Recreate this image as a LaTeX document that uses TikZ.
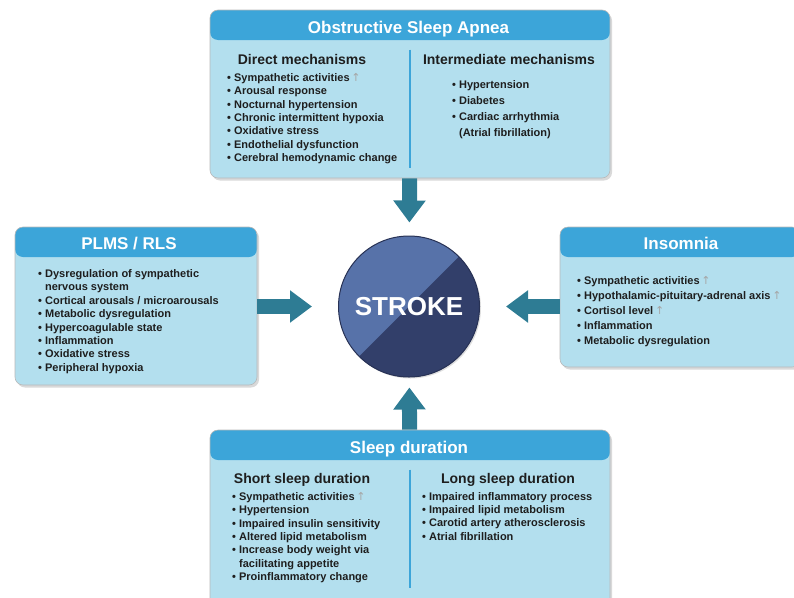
\documentclass[tikz,border=0pt]{standalone}
\usepackage{fontspec}
\setmainfont{Liberation Sans}
\newfontfamily\arrowfont{DejaVu Sans}
\usetikzlibrary{positioning,arrows.meta,shadows}
\definecolor{boxblue}{HTML}{B3DFEE}
\definecolor{headblue}{HTML}{3CA5D9}
\definecolor{arrowteal}{HTML}{2E7C94}
\definecolor{strokelight}{HTML}{5772A9}
\definecolor{strokedark}{HTML}{323F6A}
\definecolor{textdark}{HTML}{1E1E1E}
\newcommand{\upar}{\,{\arrowfont\mdseries\color{gray!70}↑}}
\newcommand{\bul}{\textbullet\ }
\newcommand{\bulgap}{\phantom{\textbullet\ }}

\begin{document}
\begin{tikzpicture}[x=1pt,y=-1pt,>={Triangle[length=22pt,width=31pt]},
  panel/.style={draw=gray!55,line width=0.6pt,fill=boxblue,rounded corners=8pt,inner sep=0pt,
    drop shadow={opacity=0.3,shadow xshift=2pt,shadow yshift=-2.5pt},
    path picture={\fill[headblue] (path picture bounding box.north west)
      rectangle ([yshift=-30pt]path picture bounding box.north east);}},
  title/.style={anchor=base,text=white,font=\bfseries\fontsize{17}{20}\selectfont},
  subhead/.style={anchor=base,text=textdark,font=\bfseries\fontsize{14}{16}\selectfont},
  items/.style={anchor=north west,inner sep=0pt,align=left,text=textdark,
    font=\bfseries\fontsize{11}{13.4}\selectfont},
  feed/.style={->,draw=arrowteal,line width=15pt}]
\useasboundingbox (0,0) rectangle (794,597);

\node[panel,minimum width=400pt,minimum height=168pt] (osa) at (410,94) {};
\node[title] (osatitle) at (408.5,33) {Obstructive Sleep Apnea};
\node[subhead] (direct) at (302,64) {Direct mechanisms};
\node[subhead] (inter) at (509,64) {Intermediate mechanisms};
\node[items] (directlist) at (227,73) {\bul Sympathetic activities\upar\\
  \bul Arousal response\\ \bul Nocturnal hypertension\\
  \bul Chronic intermittent hypoxia\\ \bul Oxidative stress\\
  \bul Endothelial dysfunction\\ \bul Cerebral hemodynamic change};
\node[items,font=\bfseries\fontsize{11}{16.1}\selectfont] (interlist) at (452,80.3)
  {\bul Hypertension\\ \bul Diabetes\\ \bul Cardiac arrhythmia\\ \bulgap(Atrial fibrillation)};
\draw[headblue,line width=1.2pt] ([yshift=-40pt]osa.north) -- ([yshift=10pt]osa.south);

\node[panel,minimum width=242pt,minimum height=158pt] (plms) at (136,306) {};
\node[title] (plmstitle) at (129,249) {PLMS / RLS};
\node[items] (plmslist) at (38,269.3) {\bul Dysregulation of sympathetic\\
  \bulgap nervous system\\ \bul Cortical arousals / microarousals\\
  \bul Metabolic dysregulation\\ \bul Hypercoagulable state\\
  \bul Inflammation\\ \bul Oxidative stress\\ \bul Peripheral hypoxia};

\node[panel,minimum width=240pt,minimum height=140pt] (insomnia) at (680,297) {};
\node[title] (insomniatitle) at (681,249) {Insomnia};
\node[items,font=\bfseries\fontsize{11}{15}\selectfont] (insomnialist) at (577,276)
  {\bul Sympathetic activities\upar\\ \bul Hypothalamic-pituitary-adrenal axis\upar\\
  \bul Cortisol level\upar\\ \bul Inflammation\\ \bul Metabolic dysregulation};

\node[panel,minimum width=400pt,minimum height=180pt] (sleep) at (410,520) {};
\node[title] (sleeptitle) at (409,453) {Sleep duration};
\node[subhead] (short) at (302,483) {Short sleep duration};
\node[subhead] (long) at (508,483) {Long sleep duration};
\node[items] (shortlist) at (232,492) {\bul Sympathetic activities\upar\\
  \bul Hypertension\\ \bul Impaired insulin sensitivity\\ \bul Altered lipid metabolism\\
  \bul Increase body weight via\\ \bulgap facilitating appetite\\ \bul Proinflammatory change};
\node[items] (longlist) at (422,492) {\bul Impaired inflammatory process\\
  \bul Impaired lipid metabolism\\ \bul Carotid artery atherosclerosis\\ \bul Atrial fibrillation};
\draw[headblue,line width=1.2pt] ([yshift=-40pt]sleep.north) -- ([yshift=22pt]sleep.south);

\node[circle,minimum size=141pt,inner sep=0pt,fill=strokelight,draw=strokedark!80!black,line width=1pt,
  drop shadow={opacity=0.25,shadow xshift=1.5pt,shadow yshift=-1.5pt},
  path picture={\fill[strokedark] (path picture bounding box.south west)
    -- (path picture bounding box.north east) -- (path picture bounding box.south east) -- cycle;},
  text=white,font=\bfseries\fontsize{26}{30}\selectfont] (stroke) at (409,306.5) {STROKE};

\draw[feed,shorten >=13pt] (osa) -- (stroke);
\draw[feed,shorten >=26pt] (plms.east |- stroke) -- (stroke);
\draw[feed,shorten >=26pt] (insomnia.west |- stroke) -- (stroke);
\draw[feed,shorten >=10pt] (sleep) -- (stroke);
\end{tikzpicture}
\end{document}
